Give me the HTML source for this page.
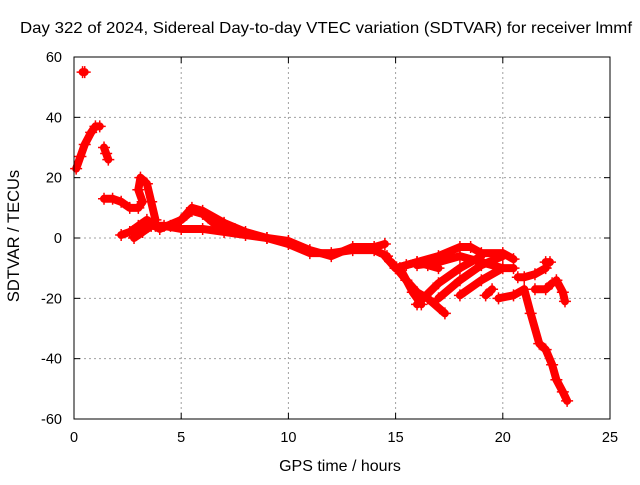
<!DOCTYPE html>
<html><head><meta charset="utf-8"><style>
body{margin:0;background:#fff}
svg text{font-family:"Liberation Sans",sans-serif;font-size:14.5px;fill:#000}
</style></head><body>
<svg id="chart" width="640" height="480" xmlns="http://www.w3.org/2000/svg">
<rect width="640" height="480" fill="#fff"/>
<text x="326" y="33" text-anchor="middle" textLength="612" lengthAdjust="spacingAndGlyphs" style="font-size:16px">Day 322 of 2024, Sidereal Day-to-day VTEC variation (SDTVAR) for receiver lmmf</text>
<text x="340" y="471" text-anchor="middle" style="font-size:16px">GPS time / hours</text>
<text transform="translate(19,236) rotate(-90)" text-anchor="middle" style="font-size:16.5px">SDTVAR / TECUs</text>
<g id="grid"></g><g id="marks"></g><g id="axes"></g>
</svg>
<script>
const xTicks=[0,5,10,15,20,25];
const yTicks=[-60,-40,-20,0,20,40,60];
const series=[
 {x:[0.1,0.3,0.5,0.8,1.0,1.2],y:[23,27,31,35,37,37]},
 {x:[0.4,0.5],y:[55,55]},
 {x:[1.4,1.5,1.6],y:[30,28,26]},
 {x:[1.4,1.8,2.2,2.6,3.0,3.2,3.0,3.1,3.4,3.6,3.8],y:[13,13,12,10,10,12,16,20,18,12,6]},
 {x:[2.2,2.6,3.0,3.4,3.8,4.5,5,5.5,6,6.5,7,7.5],y:[1,2,4,6,4,4,6,9,8,5,3,3]},
 {x:[2.8,3.2,3.6,4.2,5,6,7,8,9,10,11,12,13,14,14.6],y:[0,2,4,4,3,3,2,1,0,-2,-5,-5,-4,-4,-6]},
 {x:[3.5,4,5,5.5,6,7,8,9,10,11,12,13,14,14.5],y:[5,3,6,10,9,5,2,0,-1,-4,-6,-3,-3,-2]},
 {x:[14.5,15,15.5,16,16.5,17],y:[-6,-10,-9,-8,-9,-10]},
 {x:[14.8,15.5,16,16.5,17.3],y:[-8,-14,-18,-20,-25]},
 {x:[15.2,15.8,16.2],y:[-10,-18,-22]},
 {x:[16,17,18,19],y:[-22,-15,-10,-6]},
 {x:[17,18,19,20],y:[-20,-14,-9,-6]},
 {x:[18,19,20,20.5],y:[-19,-14,-10,-10]},
 {x:[15,16,17,18,18.5,19,20,20.5],y:[-10,-8,-6,-3,-3,-5,-5,-7]},
 {x:[16,17,18,19,20],y:[-9,-8,-6,-8,-10]},
 {x:[19.2,19.5],y:[-19,-17]},
 {x:[19.8,20.5,21],y:[-20,-19,-17]},
 {x:[20.7,21,21.5,22],y:[-13,-13,-12,-10]},
 {x:[22.0,22.2],y:[-8,-8]},
 {x:[21,21.3,21.7,22,22.3,22.5,22.8,23],y:[-17,-25,-35,-37,-42,-47,-51,-54]},
 {x:[21.5,22,22.3],y:[-17,-17,-15]},
 {x:[22.5,22.8,22.9],y:[-14,-18,-21]}
];
const L=74,R=610,T=57,B=419;
const sx=v=>L+(v-0)/25*(R-L);
const sy=v=>B-(v+60)/120*(B-T);
const NS="http://www.w3.org/2000/svg";
const grid=document.getElementById('grid'),marks=document.getElementById('marks'),axes=document.getElementById('axes');
function mk(tag,attrs,parent){const e=document.createElementNS(NS,tag);for(const k in attrs)e.setAttribute(k,attrs[k]);parent.appendChild(e);return e;}
xTicks.forEach(t=>{
 if(t>0&&t<25){const g=mk('line',{x1:sx(t),x2:sx(t),y1:T,y2:B,stroke:'#a0a0a0','stroke-dasharray':'2,3'},grid);
 
 }
 const tk=mk('line',{x1:sx(t),x2:sx(t),y1:B,y2:B-6,stroke:'#000'},axes);
 
 
 const tk2=mk('line',{x1:sx(t),x2:sx(t),y1:T,y2:T+6,stroke:'#000'},axes);
 
 
 const tx=mk('text',{x:sx(t),y:B+23,'text-anchor':'middle'},axes);tx.textContent=t;
 
 
});
yTicks.forEach(t=>{
 if(t>-60&&t<60){const g=mk('line',{x1:L,x2:R,y1:sy(t),y2:sy(t),stroke:'#a0a0a0','stroke-dasharray':'2,3'},grid);
 
 }
 const tk=mk('line',{x1:L,x2:L+6,y1:sy(t),y2:sy(t),stroke:'#000'},axes);
 
 
 const tk2=mk('line',{x1:R,x2:R-6,y1:sy(t),y2:sy(t),stroke:'#000'},axes);
 
 
 const tx=mk('text',{x:L-12,y:sy(t)+5,'text-anchor':'end'},axes);tx.textContent=t;
 
 
});
const frame=mk('rect',{x:L,y:T,width:R-L,height:B-T,fill:'none',stroke:'#000'},axes);


series.forEach(s=>{
 const pts=s.x.map((v,i)=>sx(v)+','+sy(s.y[i])).join(' ');
 const pl=mk('polyline',{points:pts,fill:'none',stroke:'#f00','stroke-width':8,'stroke-linejoin':'round','stroke-linecap':'round'},marks);
 
 
 s.x.forEach((v,i)=>{
  const x=sx(v),y=sy(s.y[i]);
  const p=mk('path',{d:`M${x-6},${y}H${x+6}M${x},${y-6}V${y+6}`,stroke:'#f00','stroke-width':1.5},marks);
  
  
 });
});
</script>
</body></html>
